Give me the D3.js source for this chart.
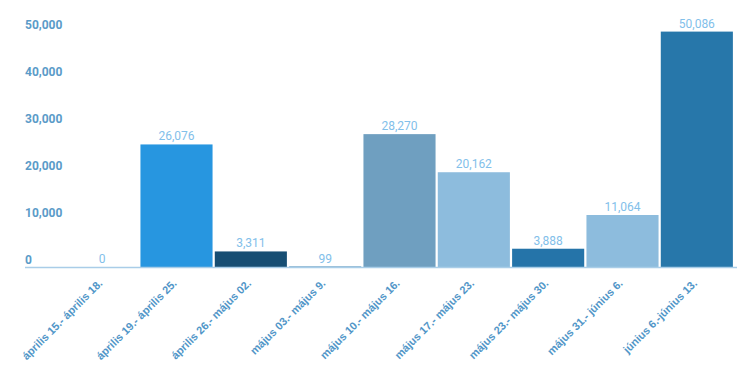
<!DOCTYPE html>
<html>
<head>
<meta charset="utf-8">
<script src="https://cdn.jsdelivr.net/npm/d3@7"></script>
<style>
  body { margin: 0; background: #fff; }
  svg { font-family: Roboto, "Noto Sans", sans-serif; }
</style>
</head>
<body>
<div id="chart"></div>
<script>
// chart data
var categories = ["április 15.- április 18.", "április 19.- április 25.", "április 26.- május 02.",
  "május 03.- május 9.", "május 10.- május 16.", "május 17.- május 23.", "május 23.- május 30.",
  "május 31.- június 6.", "június 6.-június 13."];
var values = [0, 26076, 3311, 99, 28270, 20162, 3888, 11064, 50086];
var barColors = ["#2796e0", "#2796e0", "#174e73", "#2574a9", "#6f9fc0", "#8dbcdd", "#2574a9", "#8dbcdd", "#2777aa"];
var yTicks = [0, 10000, 20000, 30000, 40000, 50000];

var svgWidth = 750, svgHeight = 376;

var svg = d3.select("#chart").append("svg")
  .attr("width", svgWidth)
  .attr("height", svgHeight);

// scales
var xScale = d3.scaleBand()
  .domain(categories)
  .range([65, 734])
  .paddingInner(0.03)
  .paddingOuter(0.015);

var yScale = d3.scaleLinear()
  .domain([0, 50000])
  .range([267, 32]);

// y tick labels (left aligned, no axis line)
svg.append("g").selectAll("text")
  .data(yTicks)
  .enter()
  .append("text")
  .attr("x", 25)
  .attr("y", d => yScale(d) - 3)
  .text(d => d3.format(",")(d))
  .attr("font-size", "12px")
  .attr("font-weight", "bold")
  .attr("fill", "#5b9bc8");

// bars
svg.append("g").selectAll("rect")
  .data(values)
  .enter()
  .append("rect")
  .attr("x", (d, i) => xScale(categories[i]))
  .attr("y", d => yScale(d))
  .attr("width", xScale.bandwidth())
  .attr("height", d => yScale(0) - yScale(d))
  .attr("fill", (d, i) => barColors[i]);

// value labels
svg.append("g").selectAll("text")
  .data(values)
  .enter()
  .append("text")
  .attr("x", (d, i) => xScale(categories[i]) + xScale.bandwidth() / 2)
  .attr("y", d => yScale(d) - 4)
  .attr("text-anchor", "middle")
  .attr("font-size", "12px")
  .attr("fill", "#82c0ea")
  .text(d => d3.format(",")(d));

// x axis
var bottomAxis = d3.axisBottom(xScale).tickSize(0).tickPadding(0);
var xAxis = svg.append("g")
  .attr("transform", "translate(0, 267)")
  .call(bottomAxis);

xAxis.select(".domain").remove();
svg.append("line")
  .attr("x1", 25).attr("x2", 737)
  .attr("y1", 267.5).attr("y2", 267.5)
  .attr("stroke", "#a9cde8")
  .attr("stroke-width", 1.5);

xAxis.selectAll("text")
  .attr("font-family", "'Liberation Sans', Arial, sans-serif")
  .attr("font-size", "11px")
  .attr("font-weight", "bold")
  .attr("fill", "#5196c8")
  .attr("text-anchor", "end")
  .attr("dy", null)
  .attr("y", 0)
  .attr("transform", "translate(1, 17) rotate(-45)");
</script>
</body>
</html>
